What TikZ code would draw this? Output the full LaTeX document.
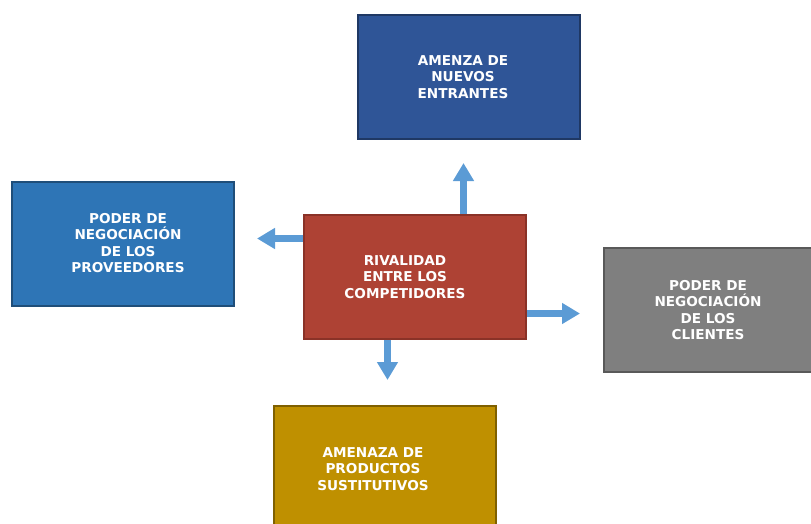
\documentclass[tikz,border=0pt]{standalone}
\usepackage{fontspec}
\setmainfont{DejaVu Sans}
\usetikzlibrary{arrows.meta}
\definecolor{cTop}{HTML}{2F5597}
\definecolor{cTopB}{HTML}{1F3864}
\definecolor{cLeft}{HTML}{2E75B6}
\definecolor{cLeftB}{HTML}{1F4E79}
\definecolor{cMid}{HTML}{AE4234}
\definecolor{cMidB}{HTML}{8A3227}
\definecolor{cRight}{HTML}{7F7F7F}
\definecolor{cRightB}{HTML}{595959}
\definecolor{cBot}{HTML}{BF9000}
\definecolor{cBotB}{HTML}{7F6000}
\definecolor{cArr}{HTML}{5B9BD5}
\tikzset{
  box/.style={draw, line width=2pt, minimum width=222pt, minimum height=124pt, inner sep=0pt, anchor=north west},
  lbl/.style={text=white, font=\bfseries\fontsize{13.6}{16.3}\selectfont, align=center},
  arr/.style={draw=cArr, line width=7pt, -{Triangle[width=20pt,length=18pt]}}
}
\begin{document}
\begin{tikzpicture}[x=1pt,y=-1pt]
\useasboundingbox (0,0) rectangle (811,523);
\begin{scope}
\clip (0,0) rectangle (811,523);
\node[box, fill=cTop, draw=cTopB] (top) at (356.5,13.5) {};
\node[box, fill=cLeft, draw=cLeftB] (left) at (10.5,180.5) {};
\node[box, fill=cMid, draw=cMidB] (mid) at (302.5,213.5) {};
\node[box, fill=cRight, draw=cRightB] (right) at (602.5,246.5) {};
\node[box, fill=cBot, draw=cBotB] (bot) at (272.5,404.5) {};
\end{scope}
\node[lbl] (ttop) at (463,77) {AMENZA DE\\NUEVOS\\ENTRANTES};
\node[lbl] (tleft) at (128,243) {PODER DE\\NEGOCIACIÓN\\DE LOS\\PROVEEDORES};
\node[lbl] (tmid) at (405,277) {RIVALIDAD\\ENTRE LOS\\COMPETIDORES};
\node[lbl] (tright) at (708,310) {PODER DE\\NEGOCIACIÓN\\DE LOS\\CLIENTES};
\node[lbl] (tbot) at (373,469) {AMENAZA DE\\PRODUCTOS\\SUSTITUTIVOS};
\coordinate (aup) at (463.5,163);
\coordinate (aleft) at (257,238.5);
\coordinate (aright) at (580,313.5);
\coordinate (adown) at (387.5,380);
\draw[arr] (mid.north -| aup) -- (aup);
\draw[arr] (mid.west |- aleft) -- (aleft);
\draw[arr] (mid.east |- aright) -- (aright);
\draw[arr] (mid.south -| adown) -- (adown);
\end{tikzpicture}
\end{document}
